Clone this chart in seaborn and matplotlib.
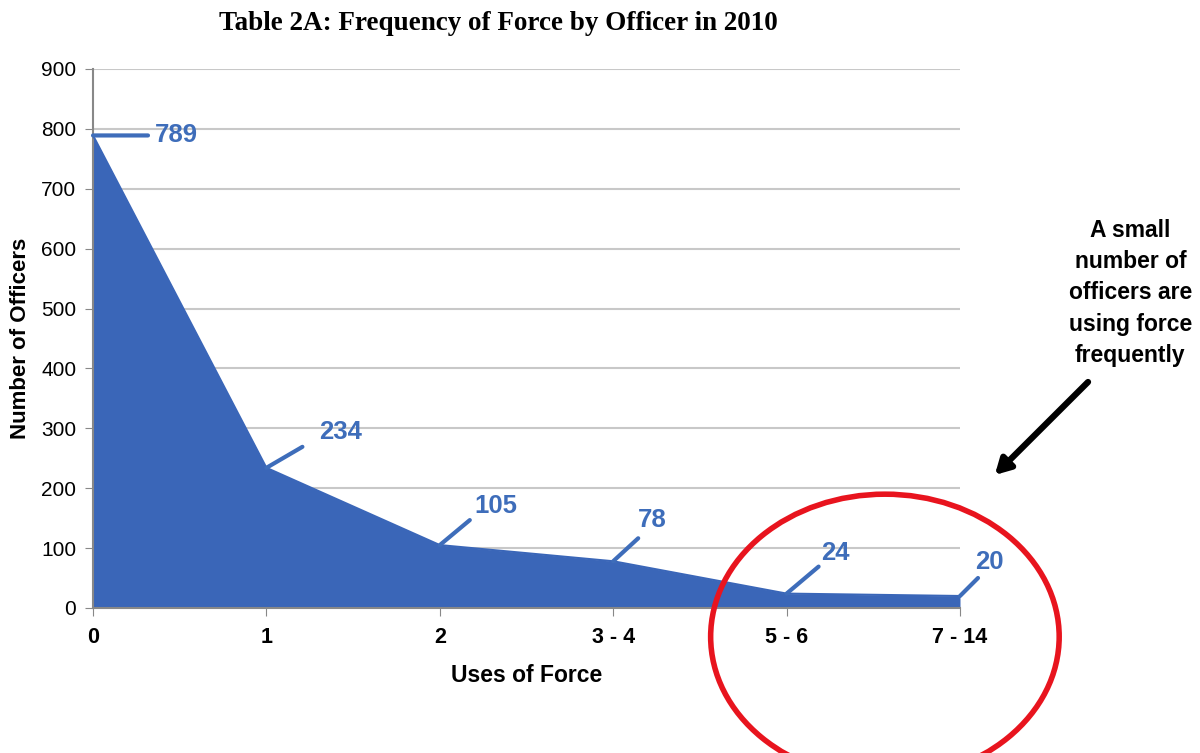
import numpy as np
import pandas as pd
import matplotlib
matplotlib.use("Agg")
import matplotlib.pyplot as plt
from matplotlib.patches import Ellipse
import seaborn as sns

# data
categories = ["0", "1", "2", "3 - 4", "5 - 6", "7 - 14"]
officers = [789, 234, 105, 78, 24, 20]
# leader line end and label position, offsets in pixels from each point
line_off = [(55, 0), (36, 21), (30, 25), (25, 23), (32, 27), (18, 18)]
text_off = [(62, 0), (53, 36), (35, 39), (25, 41), (35, 41), (15, 34)]

blue = "#3A66B8"
lab_blue = "#3E6DBA"

sns.set_style("white")
plt.rcParams["font.family"] = ["Liberation Sans", "DejaVu Sans"]
plt.rcParams["text.color"] = "black"
plt.rcParams["xtick.color"] = "black"
plt.rcParams["ytick.color"] = "black"
plt.rcParams["axes.labelcolor"] = "black"

df = pd.DataFrame({"pos": np.arange(len(categories)), "officers": officers})

fig = plt.figure(figsize=(12, 7.53), dpi=100)
ax = fig.add_axes([0.0775, 0.1926, 0.7225, 0.7158])

ax.fill_between(df["pos"], df["officers"], 0, color=blue, lw=0, zorder=2)
sns.lineplot(data=df, x="pos", y="officers", color=blue, lw=1.5, ax=ax, zorder=3)

ax.set_xlim(0, len(categories) - 1)
ax.set_ylim(0, 900)
ax.set_yticks(range(0, 901, 100))
ax.set_xticks(df["pos"])
ax.set_xticklabels(categories, fontsize=15.5, fontweight="bold")
ax.tick_params(axis="y", labelsize=15, length=6, color="#888888", direction="out", left=True, pad=6)
ax.tick_params(axis="x", length=6, color="#888888", direction="out", bottom=True, pad=8)
ax.grid(axis="y", color="#C8C8C8", lw=1.5, zorder=0)
ax.set_axisbelow(True)
for s in ["top", "right"]:
    ax.spines[s].set_visible(False)
for s in ["left", "bottom"]:
    ax.spines[s].set_color("#888888")
    ax.spines[s].set_linewidth(1.5)

ax.set_xlabel("Uses of Force", fontsize=16.5, fontweight="bold", labelpad=11)
ax.set_ylabel("Number of Officers", fontsize=16, fontweight="bold", labelpad=7)

fig.text(0.415, 0.969, "Table 2A: Frequency of Force by Officer in 2010",
         ha="center", va="center", fontsize=19.5, fontweight="bold",
         family=["Liberation Serif", "DejaVu Serif"])

# value labels with leader lines
for i, v in enumerate(officers):
    ax.annotate("", xy=(i, v), xytext=line_off[i], textcoords="offset pixels",
                arrowprops=dict(arrowstyle="-", color=lab_blue, lw=3,
                                shrinkA=0, shrinkB=0), annotation_clip=False, zorder=4)
    ax.annotate(str(v), xy=(i, v), xytext=text_off[i], textcoords="offset pixels",
                ha="left", va="center", fontsize=18.5, fontweight="bold",
                color=lab_blue, annotation_clip=False, zorder=4)

# red circle round the last two groups
ell = Ellipse((4.567, -48), width=2.01, height=476, fill=False,
              edgecolor="#E8141E", lw=4, clip_on=False, zorder=5)
ax.add_patch(ell)

# callout
fig.text(0.942, 0.611, "A small\nnumber of\nofficers are\nusing force\nfrequently",
         ha="center", va="center", fontsize=16.5, fontweight="bold", linespacing=1.45)
ax.annotate("", xy=(0.829, 0.3692), xycoords="figure fraction",
            xytext=(0.9067, 0.4927), textcoords="figure fraction",
            arrowprops=dict(arrowstyle="-|>,head_length=0.9,head_width=0.5",
                            color="black", lw=4.5, shrinkA=0, shrinkB=0),
            annotation_clip=False)

fig.savefig("out.png", dpi=100)
